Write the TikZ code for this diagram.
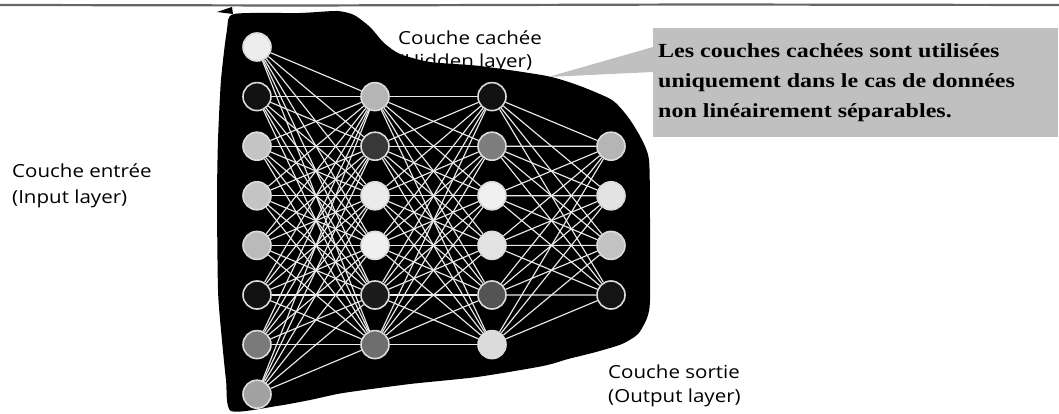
\documentclass[tikz,border=0pt]{standalone}
\usepackage{fontspec}
\newfontfamily\lblfont[FakeStretch=1.14]{Open Sans}
\newfontfamily\boxfont[FakeStretch=1.2]{Liberation Serif}
\definecolor{calloutgray}{HTML}{C0C0C0}
\definecolor{linkwhite}{HTML}{EAEAEA}
\definecolor{rimgray}{HTML}{DCDCDC}
\tikzset{
  neuron/.style={circle, draw=rimgray, line width=1.6pt, minimum size=28pt, inner sep=0pt},
  conn/.style={draw=linkwhite, line width=1.15pt},
  lbl/.style={anchor=base west, inner sep=0pt, font=\lblfont\fontsize{18}{22}\selectfont},
  boxtxt/.style={anchor=base west, inner sep=0pt, font=\boxfont\bfseries\fontsize{20}{24}\selectfont}
}
\begin{document}
\begin{tikzpicture}[x=1pt,y=-1pt]
\useasboundingbox (0,0) rectangle (1059,414);
% scan edge at top
\draw[black!60, line width=2.2pt] (0,5) -- (300,5.5) -- (700,4.5) -- (1059,5);
\fill (217,12) -- (232,7) -- (233,14) -- cycle;
% labels
\node[lbl] (hid1) at (398,45) {Couche cachée};
\node[lbl] (hid2) at (398,68) {(Hidden layer)};
\node[lbl] (in1) at (12,178) {Couche entrée};
\node[lbl] (in2) at (12,203) {(Input layer)};
\node[lbl] (out1) at (608,378) {Couche sortie};
\node[lbl] (out2) at (608,402) {(Output layer)};
% black blob
\fill[black] plot[smooth cycle, tension=0.4] coordinates {
 (234,14) (300,13) (337,11) (354,15) (370,27) (384,43) (400,54) (430,62)
 (480,66) (547,76) (580,86) (612,100) (628,117) (641,138) (649,160)
 (650,220) (650,300) (647,318) (638,334) (622,344) (596,352) (568,359)
 (543,366) (477,377) (410,384) (343,393) (310,400) (277,406) (231,411)
 (226,380) (221,330) (218,290) (217,200) (218,140) (221,80) (227,30)};
% callout
\node[fill=calloutgray, anchor=north west, minimum width=405pt, minimum height=109pt, inner sep=0pt] (box) at (653,28) {};
\fill[calloutgray] (548,77) -- (box.west |- 0,47) -- (box.west |- 0,72) -- cycle;
\node[boxtxt] (t1) at (658,58) {Les couches cachées sont utilisées};
\node[boxtxt] (t2) at (658,88) {uniquement dans le cas de données};
\node[boxtxt] (t3) at (658,117.5) {non linéairement séparables.};
% neurons
\foreach \g [count=\i] in {7,93,23,23,27,93,52,37}
  \node[neuron, fill=black!\g] (a\i) at (257,{47+49.6*(\i-1)}) {};
\foreach \g [count=\i] in {29,78,8,6,89,57}
  \node[neuron, fill=black!\g] (b\i) at (375,{96.6+49.6*(\i-1)}) {};
\foreach \g [count=\i] in {93,51,6,11,67,14}
  \node[neuron, fill=black!\g] (c\i) at (492,{96.6+49.6*(\i-1)}) {};
\foreach \g [count=\i] in {29,11,24,92}
  \node[neuron, fill=black!\g] (d\i) at (611,{146.2+49.6*(\i-1)}) {};
% connections
\foreach \i in {1,...,8} \foreach \j in {1,...,6} \draw[conn] (a\i) -- (b\j);
\foreach \i in {1,...,6} \foreach \j in {1,...,6} \draw[conn] (b\i) -- (c\j);
\foreach \i in {1,...,6} \foreach \j in {1,...,4} \draw[conn] (c\i) -- (d\j);
\end{tikzpicture}
\end{document}
